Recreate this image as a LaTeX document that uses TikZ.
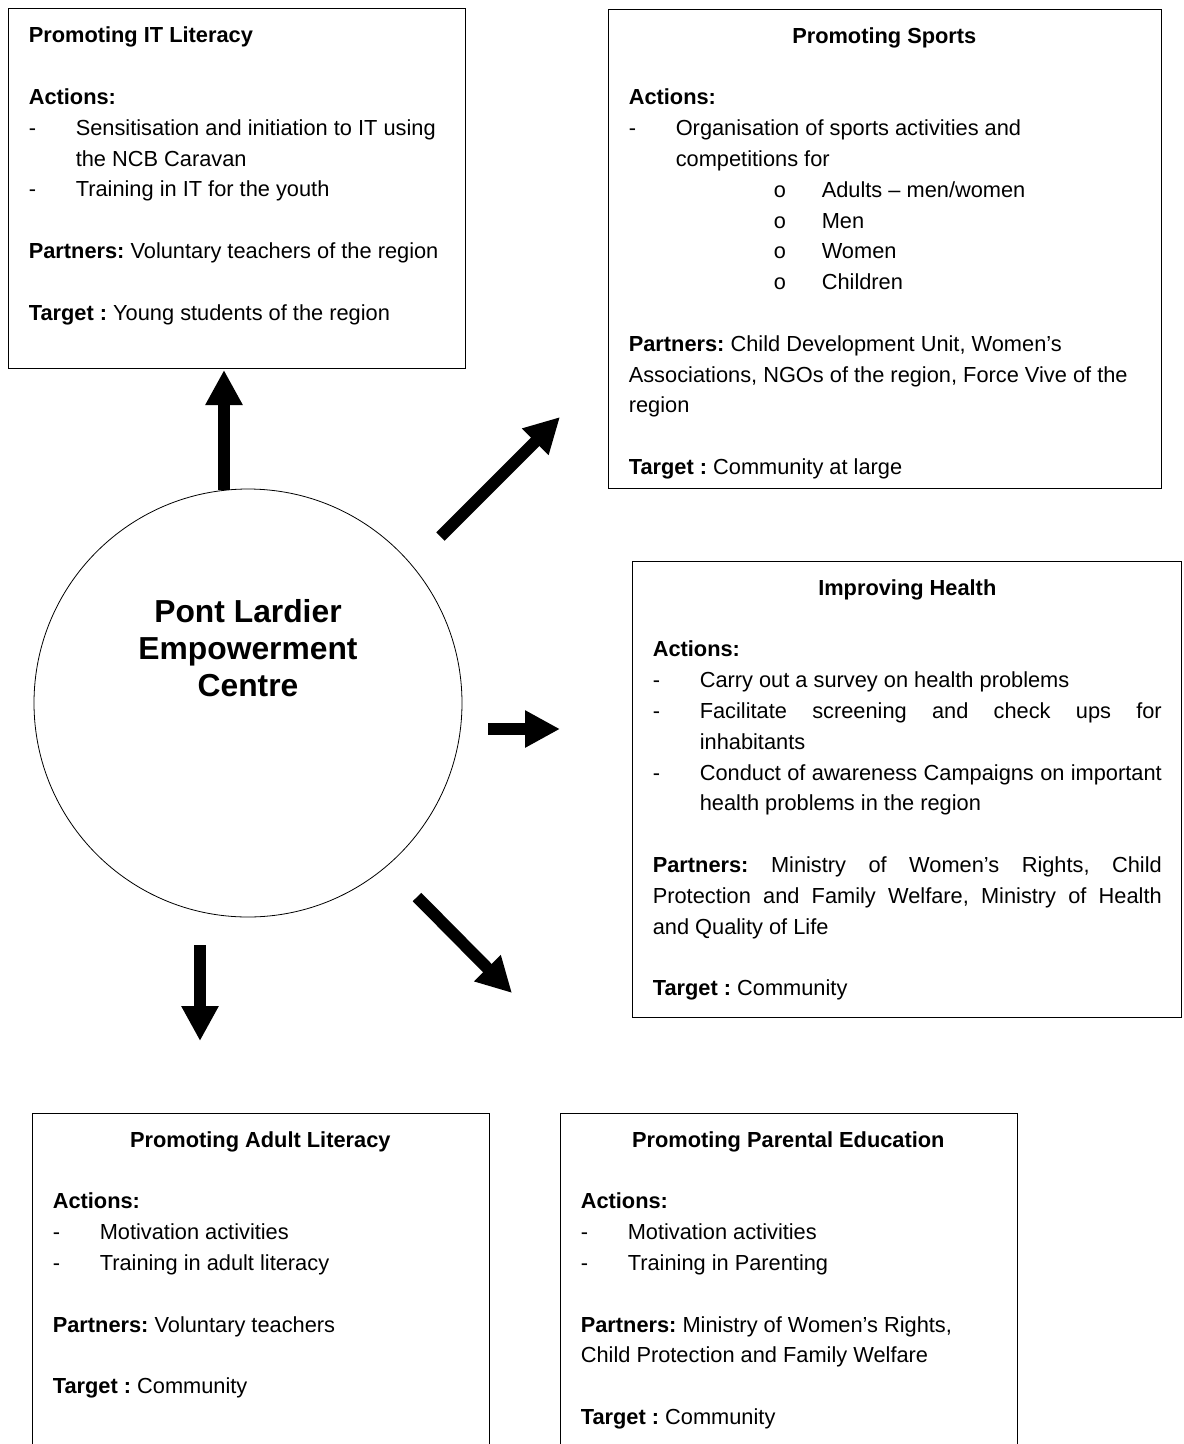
\documentclass[tikz,border=0pt]{standalone}
\usepackage{fontspec}
\setmainfont{Liberation Sans}
\newfontfamily\bulletfont{Liberation Mono}
\usetikzlibrary{positioning,arrows.meta}

\newlength{\rowgap}
\setlength{\rowgap}{30.8pt}
\newcommand{\plainspaces}{\spaceskip=0pt\xspaceskip=0pt\frenchspacing}
\newcommand{\dashmark}{\makebox[47pt][l]{-}}
\newcommand{\hangpad}{\hspace*{47pt}}
\newcommand{\circmark}{\hspace*{144.5pt}\makebox[48.5pt][l]{\bulletfont o}}
\newcommand{\boxhead}[1]{\plainspaces{\centering\bfseries\strut#1\par}\vspace{\rowgap}}
\newcommand{\spreadline}[2]{\makebox[#1][s]{\plainspaces#2}}

\begin{document}
\begin{tikzpicture}[x=1pt,y=-1pt,
  panel/.style={draw,line width=0.8pt,inner sep=0pt},
  blurb/.style={inner sep=0pt,align=left,font=\fontsize{21.8pt}{30.8pt}\selectfont},
  bigarrow/.style={line width=12pt,-{Triangle[length=35pt,width=35pt]}}]
  \useasboundingbox (0,0) rectangle (1184,1444);

  \node[panel,minimum width=457pt,minimum height=360pt] (itbox) at (236.5,188.5) {};
  \node[blurb,text width=430pt,below right=13pt and 21pt of itbox.north west] (ittext) {\plainspaces\strut\textbf{Promoting IT Literacy}\\[\rowgap]
    \textbf{Actions:}\\
    \dashmark Sensitisation and initiation to IT using\\
    \hangpad the NCB Caravan\\
    \dashmark Training in IT for the youth\\[\rowgap]
    \textbf{Partners:} Voluntary teachers of the region\\[\rowgap]
    \textbf{Target :} Young students of the region};

  \node[panel,minimum width=553pt,minimum height=479.5pt] (sportsbox) at (884.5,248.75) {};
  \node[blurb,text width=511pt,below right=13pt and 21pt of sportsbox.north west] (sportstext) {\boxhead{Promoting Sports}
    \textbf{Actions:}\\
    \dashmark Organisation of sports activities and\\
    \hangpad competitions for\\
    \circmark Adults -- men/women\\
    \circmark Men\\
    \circmark Women\\
    \circmark Children\\[\rowgap]
    \textbf{Partners:} Child Development Unit, Women's\\
    Associations, NGOs of the region, Force Vive of the\\
    region\\[\rowgap]
    \textbf{Target :} Community at large};

  \node[panel,minimum width=549pt,minimum height=456pt] (healthbox) at (906.5,789) {};
  \node[blurb,text width=509pt,below right=13pt and 21pt of healthbox.north west] (healthtext) {\boxhead{Improving Health}
    \textbf{Actions:}\\
    \dashmark Carry out a survey on health problems\\
    \dashmark\spreadline{462pt}{Facilitate screening and check ups for}\\
    \hangpad inhabitants\\
    \dashmark\spreadline{462pt}{Conduct of awareness Campaigns on important}\\
    \hangpad health problems in the region\\[\rowgap]
    \spreadline{509pt}{\textbf{Partners:} Ministry of Women's Rights, Child}\\
    \spreadline{509pt}{Protection and Family Welfare, Ministry of Health}\\
    and Quality of Life\\[\rowgap]
    \textbf{Target :} Community};

  \node[panel,minimum width=457pt,minimum height=340pt] (adultbox) at (260.5,1283) {};
  \node[blurb,text width=415pt,below right=13pt and 21pt of adultbox.north west] (adulttext) {\boxhead{Promoting Adult Literacy}
    \textbf{Actions:}\\
    \dashmark Motivation activities\\
    \dashmark Training in adult literacy\\[\rowgap]
    \textbf{Partners:} Voluntary teachers\\[\rowgap]
    \textbf{Target :} Community};

  \node[panel,minimum width=457pt,minimum height=340pt] (parentbox) at (788.5,1283) {};
  \node[blurb,text width=415pt,below right=13pt and 21pt of parentbox.north west] (parenttext) {\boxhead{Promoting Parental Education}
    \textbf{Actions:}\\
    \dashmark Motivation activities\\
    \dashmark Training in Parenting\\[\rowgap]
    \textbf{Partners:} Ministry of Women's Rights,\\
    Child Protection and Family Welfare\\[\rowgap]
    \textbf{Target :} Community};

  \node[draw,circle,line width=0.8pt,inner sep=0pt,minimum size=428pt] (centre) at (248,703) {};
  \node[align=center,font=\fontsize{31.8pt}{37pt}\selectfont\bfseries] (centrename) at (248,648) {Pont Lardier\\Empowerment\\Centre};

  \coordinate (upfoot) at (224,490);
  \coordinate (uptip) at (224,370);
  \coordinate (nefoot) at (440.5,536.5);
  \coordinate (netip) at (560,417);
  \coordinate (rightfoot) at (488,729);
  \coordinate (righttip) at (560,729);
  \coordinate (sefoot) at (417,897);
  \coordinate (setip) at (512,993);
  \coordinate (downfoot) at (200,945);
  \coordinate (downtip) at (200,1041);

  \draw[bigarrow] (upfoot) -- (uptip);
  \draw[bigarrow] (nefoot) -- (netip);
  \draw[bigarrow] (rightfoot) -- (righttip);
  \draw[bigarrow] (sefoot) -- (setip);
  \draw[bigarrow] (downfoot) -- (downtip);
\end{tikzpicture}
\end{document}
